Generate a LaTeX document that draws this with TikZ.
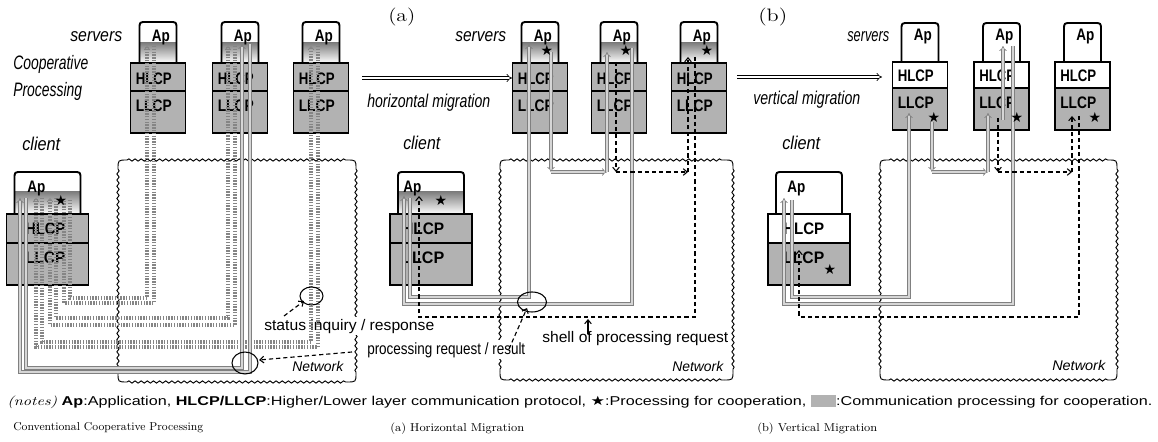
\documentclass[tikz,border=0pt]{standalone}
\usepackage{fontspec}
\usepackage{graphicx}
\usetikzlibrary{arrows.meta,decorations.pathmorphing}
\newfontfamily\hv{Liberation Sans}
\newfontfamily\symf{DejaVu Sans}
\newlength\pxu
\setlength\pxu{0.75pt}
% horizontally fit a text to a given width (in px units), keeping its height
\newcommand\W[2]{\resizebox{#1\pxu}{\height}{#2}}
\definecolor{shade}{gray}{0.70}

% tab with rounded top corners: x-left, x-right, top, bottom, options
\newcommand\aptab[5]{%
  \path[#5] (#1,#4) -- (#1,#3+7) .. controls (#1,#3) .. (#1+7,#3) -- (#2-7,#3)
    .. controls (#2,#3) .. (#2,#3+7) -- (#2,#4);}

% server stack: name, cx, Ap top, Ap bottom, HLCP/LLCP split, bottom, HLCP fill, Ap shading top
\newcommand\srv[8]{%
  \aptab{#2-18.5}{#2+18.5}{#3}{#4}{fill=white}
  \fill[shade] (#2-18.5,#8) rectangle (#2+18.5,#4);
  \aptab{#2-18.5}{#2+18.5}{#3}{#4}{boxline}
  \draw[boxline,fill=#7] (#2-27.5,#4) rectangle (#2+27.5,#5);
  \draw[boxline,fill=shade] (#2-27.5,#5) rectangle (#2+27.5,#6);
  \node[boxlab] (#1-ap) at (#2-6.5,#4-21) {\W{18}{Ap}};
  \node[boxlab] (#1-hl) at (#2-22.5,#5-6) {\W{36}{HLCP}};
  \node[boxlab] (#1-ll) at (#2-22.5,#5+21) {\W{36}{LLCP}};
}

% client stack: name, cx, HLCP fill, Ap shading top, Ap text x, layer text x, layer text width
\newcommand\cli[7]{%
  \aptab{#2-33}{#2+33}{172}{214}{fill=white}
  \fill[shade] (#2-33,#4) rectangle (#2+33,214);
  \aptab{#2-33}{#2+33}{172}{214}{boxline}
  \draw[boxline,fill=#3] (#2-41,214) rectangle (#2+41,243);
  \draw[boxline,fill=shade] (#2-41,243) rectangle (#2+41,285);
  \node[boxlab] (#1-ap) at (#5,193) {\W{18}{Ap}};
  \node[boxlab] (#1-hl) at (#6,234) {\W{#7}{HLCP}};
  \node[boxlab] (#1-ll) at (#6,263) {\W{#7}{LLCP}};
}

% network area with wavy sides and smooth corners: name, x1, y1, x2, y2
\newcommand\netarea[5]{%
  \draw[netline] (#2,#3+9) .. controls (#2,#3) .. (#2+9,#3);
  \draw[netline] (#4-9,#3) .. controls (#4,#3) .. (#4,#3+9);
  \draw[netline] (#4,#5-9) .. controls (#4,#5) .. (#4-9,#5);
  \draw[netline] (#2+9,#5) .. controls (#2,#5) .. (#2,#5-9);
  \draw[netline,wavy] (#2+9,#3) -- (#4-9,#3);
  \draw[netline,wavy] (#4,#3+9) -- (#4,#5-9);
  \draw[netline,wavy] (#2+9,#5) -- (#4-9,#5);
  \draw[netline,wavy] (#2,#3+9) -- (#2,#5-9);
  \coordinate (#1) at (#4,#5);
}

\begin{document}
\begin{tikzpicture}[x=0.75pt,y=-0.75pt,
  boxline/.style={draw=black, line width=1.4pt},
  lab/.style={inner sep=0pt, anchor=base west},
  boxlab/.style={lab, font=\hv\bfseries\fontsize{12.5}{13}\selectfont},
  itlab/.style={lab, font=\hv\itshape\fontsize{13.9}{15}\selectfont},
  netlab/.style={lab, font=\hv\itshape\fontsize{10.5}{12}\selectfont},
  midlab/.style={lab, font=\hv\fontsize{11.5}{13}\selectfont, fill=white, inner sep=1.5pt},
  netline/.style={draw=black, line width=0.7pt},
  wavy/.style={decorate, decoration={snake, segment length=4.6pt, amplitude=0.85pt}},
  band/.style={draw=black!48, line width=2.3pt, dash pattern=on 1pt off 1.1pt},
  btip/.style={-{Straight Barb[length=2.4pt,width=4.2pt,line width=0.6pt]}},
  gline/.style={draw=black!50, line width=0.5pt, double=black!16, double distance=1.4pt},
  gtip/.style={-{Implies}},
  dline/.style={draw=black, line width=0.85pt, dash pattern=on 3.2pt off 2.2pt},
  dtip/.style={-{Straight Barb[length=3pt,width=5pt,line width=0.8pt]}},
  migr/.style={draw=black, line width=0.5pt, double distance=1.6pt, -{Implies}},
  pstar/.style={inner sep=0pt, font=\symf\fontsize{10.5}{11}\selectfont},
  ell/.style={draw=black, line width=0.8pt}]
\useasboundingbox (0,0) rectangle (1158,442);

% ---------- network areas ----------
\netarea{net0}{118}{160}{356}{382}
\netarea{net1}{500}{160}{733}{380}
\netarea{net2}{880}{160}{1117}{380}

% ---------- conventional cooperative processing ----------
\srv{s01}{158}{22}{63}{91}{133}{shade}{43}
\srv{s02}{240}{22}{63}{91}{133}{shade}{43}
\srv{s03}{321}{22}{63}{91}{133}{shade}{43}
\cli{k0}{47.5}{shade}{192}{27}{25}{40}

% ---------- (a) horizontal migration ----------
\srv{s11}{540}{22}{63}{91}{133}{shade}{43}
\srv{s12}{619}{22}{63}{91}{133}{shade}{43}
\srv{s13}{699}{22}{63}{91}{133}{shade}{43}
\cli{k1}{431}{shade}{192}{403}{402}{42}

% ---------- (b) vertical migration ----------
\srv{s21}{920}{23}{62}{88}{130}{white}{62}
\srv{s22}{1001.5}{23}{62}{88}{130}{white}{62}
\srv{s23}{1082.5}{23}{62}{88}{130}{white}{62}
\cli{k2}{809}{white}{214}{787}{783}{41}

% ---------- labels ----------
\node[itlab] (lsrv) at (70,42) {\W{52}{servers}};
\node[itlab, font=\hv\itshape\fontsize{14.6}{16}\selectfont] (coop1) at (13,70) {\W{75}{Cooperative}};
\node[itlab, font=\hv\itshape\fontsize{14.6}{16}\selectfont] (coop2) at (13,97) {\W{69}{Processing}};
\node[itlab] (lcli) at (22,151) {\W{38}{client}};
\node[itlab] (msrv) at (455,42) {\W{51}{servers}};
\node[itlab] (mcli) at (403,150) {\W{37}{client}};
\node[itlab] (rsrv) at (847,42) {\W{42}{servers}};
\node[itlab] (rcli) at (782,150) {\W{38}{client}};
\node[itlab] (mig1) at (367,108) {\W{123}{horizontal migration}};
\node[itlab] (mig2) at (753,105) {\W{107}{vertical migration}};
\node[lab, font=\fontsize{13.5}{14}\selectfont] (ta) at (388,22) {\W{27}{(a)}};
\node[lab, font=\fontsize{13.5}{14}\selectfont] (tb) at (758,22) {\W{29}{(b)}};
\node[netlab] (n0l) at (292,372) {\W{51}{Network}};
\node[netlab] (n1l) at (672,372) {\W{51}{Network}};
\node[netlab] (n2l) at (1052,370) {\W{53}{Network}};
\node[midlab] (stat) at (262,330) {\W{170}{status inquiry / response}};
\node[midlab, font=\hv\fontsize{12.2}{13}\selectfont] (preq) at (365,354) {\W{158}{processing request / result}};
\node[midlab] (shell) at (540,343) {\W{186}{shell of processing request}};

% ---------- migration arrows ----------
\coordinate (ma1) at (362,78);  \coordinate (mb1) at (512,78);
\coordinate (ma2) at (737,77);  \coordinate (mb2) at (882,77);
\draw[migr] (ma1) -- (mb1);
\draw[migr] (ma2) -- (mb2);

% ---------- conventional: communication paths ----------
\coordinate (k0-g1) at (26,198);  \coordinate (k0-g2) at (20,198);
\coordinate (k0-a3) at (42,198);  \coordinate (k0-b3) at (36,198);
\coordinate (k0-a2) at (56,198);  \coordinate (k0-b2) at (50,198);
\coordinate (k0-a1) at (70,200);  \coordinate (k0-b1) at (64,200);
\coordinate (s01-a) at (147,46);  \coordinate (s01-b) at (154,46);
\coordinate (s02-a) at (228,46);  \coordinate (s02-b) at (235,46);
\coordinate (s02-g1) at (242,44); \coordinate (s02-g2) at (250,44);
\coordinate (s03-a) at (311,46);  \coordinate (s03-b) at (318,46);
\coordinate (y1a) at (0,298); \coordinate (y1b) at (0,303);
\coordinate (y2a) at (0,318); \coordinate (y2b) at (0,325);
\coordinate (y3a) at (0,342); \coordinate (y3b) at (0,347);
\coordinate (yga) at (0,368); \coordinate (ygb) at (0,372);

\draw[band,btip] (k0-a1) -- (k0-a1 |- y1a) -| (s01-a);
\draw[band] (s01-b) -- (s01-b |- y1b) -| (k0-b1);
\draw[band,btip] (k0-a2) -- (k0-a2 |- y2a) -| (s02-a);
\draw[band,btip] (s02-b) -- (s02-b |- y2b) -| (k0-b2);
\draw[band,btip] (k0-a3) -- (k0-a3 |- y3a) -| (s03-a);
\draw[band,btip] (s03-b) -- (s03-b |- y3b) -| (k0-b3);
\draw[gline,gtip] (k0-g1) -- (k0-g1 |- yga) -| (s02-g1);
\draw[gline,gtip] (s02-g2) -- (s02-g2 |- ygb) -| (k0-g2);

% ---------- (a): migrated processing paths ----------
\coordinate (k1-i) at (410,198); \coordinate (k1-o) at (404,196); \coordinate (k1-d) at (419,196);
\coordinate (s11-a) at (529,44); \coordinate (s11-b) at (551,52);
\coordinate (s12-a) at (607,52); \coordinate (s12-b) at (632,48); \coordinate (s12-d) at (616,62);
\coordinate (s13-a) at (688,57); \coordinate (s13-b) at (695,57);
\coordinate (ym1) at (0,297); \coordinate (ym2) at (0,304); \coordinate (ym3) at (0,317);
\coordinate (ymh) at (0,172);

\draw[gline,gtip] (k1-i) -- (k1-i |- ym1) -| (s11-a);
\draw[gline,gtip] (s12-b) -- (s12-b |- ym2) -| (k1-o);
\draw[gline,gtip] (s11-b) -- (s11-b |- ymh);
\draw[gline,gtip] (s11-b |- ymh) -- (s12-a |- ymh);
\draw[gline,gtip] (s12-a |- ymh) -- (s12-a);
\draw[dline,dtip] (s12-d) -- (s12-d |- ymh);
\draw[dline,dtip] (s12-d |- ymh) -- (s13-a |- ymh);
\draw[dline,dtip] (s13-a |- ymh) -- (s13-a);
\draw[dline,dtip] (s13-b) -- (s13-b |- ym3) -| (k1-d);

% ---------- (b): migrated processing paths ----------
\coordinate (k2-i) at (792,200); \coordinate (k2-o) at (784,198); \coordinate (k2-d) at (799,250);
\coordinate (s21-a) at (909,113); \coordinate (s21-b) at (932,122);
\coordinate (s22-a) at (988,113); \coordinate (s22-u) at (1003,120); \coordinate (s22-v) at (1003,46);
\coordinate (s22-b) at (1013,46); \coordinate (s22-d) at (998,118);
\coordinate (s23-a) at (1072,116); \coordinate (s23-b) at (1079,116);

\draw[gline,gtip] (k2-i) -- (k2-i |- ym1) -| (s21-a);
\draw[gline,gtip] (s22-b) -- (s22-b |- ym2) -| (k2-o);
\draw[gline,gtip] (s21-b) -- (s21-b |- ymh);
\draw[gline,gtip] (s21-b |- ymh) -- (s22-a |- ymh);
\draw[gline,gtip] (s22-a |- ymh) -- (s22-a);
\draw[gline,gtip] (s22-u) -- (s22-v);
\draw[dline,dtip] (s22-d) -- (s22-d |- ymh);
\draw[dline,dtip] (s22-d |- ymh) -- (s23-a |- ymh);
\draw[dline,dtip] (s23-a |- ymh) -- (s23-a);
\draw[dline,dtip] (s23-b) -- (s23-b |- ym3) -| (k2-d);

% ---------- marked spots and pointers ----------
\draw[ell] (311.5,296) ellipse [x radius=11.5, y radius=9];
\draw[ell] (245,363) ellipse [x radius=13, y radius=11];
\draw[ell] (532,302) ellipse [x radius=14.5, y radius=10];
\coordinate (p1s) at (284,316); \coordinate (p1e) at (304,301);
\coordinate (p2s) at (352,352); \coordinate (p2e) at (259,360);
\coordinate (p3s) at (509,349); \coordinate (p3e) at (527,308);
\coordinate (p4s) at (588,334); \coordinate (p4e) at (588,319);
\draw[dline,dtip] (p1s) -- (p1e);
\draw[dline,dtip] (p2s) -- (p2e);
\draw[dline,dtip] (p3s) -- (p3e);
\draw[black,line width=0.8pt,dtip] (p4s) -- (p4e);

% ---------- cooperation processing marks ----------
\node[pstar] (st0) at (61,200) {★};
\node[pstar] (st1) at (547,50) {★};
\node[pstar] (st2) at (626,50) {★};
\node[pstar] (st3) at (707,50) {★};
\node[pstar] (st4) at (441,200) {★};
\node[pstar] (st5) at (934,117) {★};
\node[pstar] (st6) at (1017,117) {★};
\node[pstar] (st7) at (1095,117) {★};
\node[pstar] (st8) at (830,269) {★};

% ---------- legend and captions ----------
\node[lab] (notes) at (7,406) {\W{1145}{\fontsize{9.6}{11}\selectfont\textit{(notes)}\hv\ \textbf{Ap}:Application, \textbf{HLCP/LLCP}:Higher/Lower layer communication protocol, {\symf ★}:Processing for cooperation, {\color{shade}\rule[-0.5pt]{15pt}{8.5pt}}:Communication processing for cooperation.}};
\node[lab] (cap0) at (13,431) {\W{190}{\fontsize{8.6}{9}\selectfont Conventional Cooperative Processing}};
\node[lab] (cap1) at (390,431) {\W{134}{\fontsize{8.6}{9}\selectfont (a) Horizontal Migration}};
\node[lab] (cap2) at (757,431) {\W{120}{\fontsize{8.6}{9}\selectfont (b) Vertical Migration}};
\end{tikzpicture}
\end{document}
